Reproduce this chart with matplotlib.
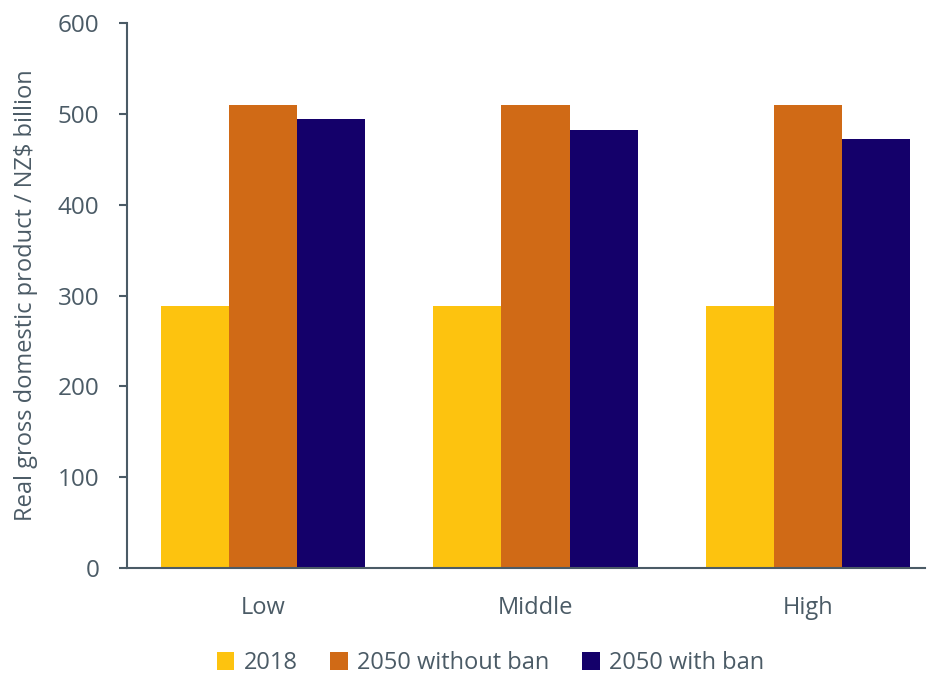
import matplotlib

matplotlib.use("Agg")
import matplotlib.pyplot as plt
import numpy as np

scenarios = ["Low", "Middle", "High"]
series_names = ["2018", "2050 without ban", "2050 with ban"]
gdp_2018 = [289, 289, 289]
gdp_2050_no_ban = [510, 510, 510]
gdp_2050_ban = [494, 482, 472]
colors = ["#FDC30F", "#D06A16", "#14006A"]
text_color = "#4B5B66"

plt.rcParams["font.family"] = ["Open Sans", "DejaVu Sans"]

fig = plt.figure(figsize=(9.29, 6.75), dpi=100)
ax = fig.add_axes([0.1367, 0.1585, 0.859, 0.8074])

x = np.arange(len(scenarios))
width = 0.25
for i, (name, vals) in enumerate(zip(series_names, [gdp_2018, gdp_2050_no_ban, gdp_2050_ban])):
    ax.bar(x + (i - 1) * width, vals, width, color=colors[i], label=name)

ax.set_xlim(-0.5, 2.43)
ax.set_ylim(0, 600)
ax.set_yticks(range(0, 601, 100))
ax.set_xticks(x)
ax.set_xticklabels(scenarios)

for side in ["top", "right"]:
    ax.spines[side].set_visible(False)
for side in ["left", "bottom"]:
    ax.spines[side].set_color(text_color)
    ax.spines[side].set_linewidth(1.5)

ax.tick_params(axis="y", colors=text_color, labelsize=17.5, length=6, width=1.5, pad=14)
ax.tick_params(axis="x", colors=text_color, labelsize=17, length=0, pad=20)
ax.set_ylabel("Real gross domestic product / NZ$ billion", color=text_color, fontsize=17, labelpad=14)

fig.legend(
    loc="lower center",
    bbox_to_anchor=(0.528, -0.032),
    ncol=3,
    frameon=False,
    fontsize=17,
    labelcolor=text_color,
    handlelength=0.75,
    handleheight=0.75,
    handletextpad=0.4,
    columnspacing=1.38,
)

fig.savefig("out.png", dpi=100)
